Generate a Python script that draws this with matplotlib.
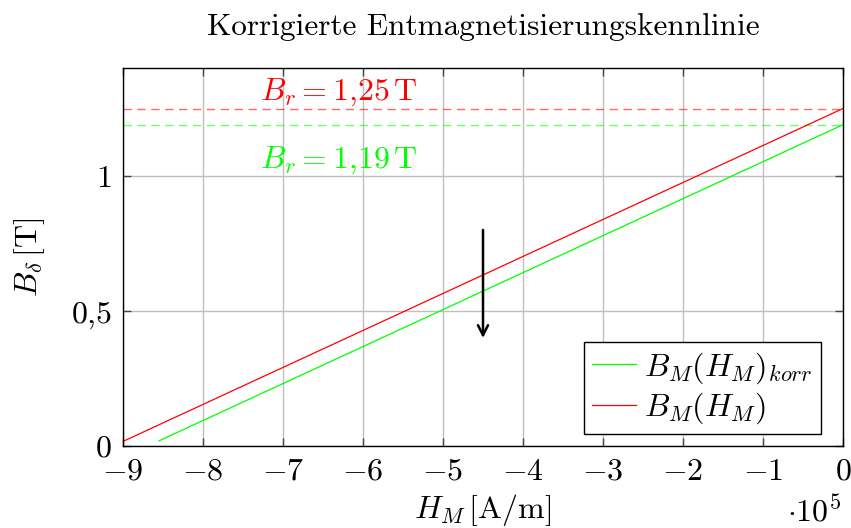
import numpy as np
import matplotlib
matplotlib.use("Agg")
import matplotlib.pyplot as plt

plt.rcParams["mathtext.fontset"] = "cm"
plt.rcParams["font.family"] = ["cmr10", "DejaVu Serif"]
plt.rcParams["axes.unicode_minus"] = False

# Field strength H_M in units of 1e5 A/m and flux density B_M in T
H_orig = [-9.0, 0.0]
B_orig = [0.017, 1.25]
H_korr = [-8.55, 0.0]
B_korr = [0.019, 1.19]

Br_orig = 1.25
Br_korr = 1.19

x_ticks = [-9, -8, -7, -6, -5, -4, -3, -2, -1, 0]
y_ticks = [0, 0.5, 1]
y_tick_labels = ["$0$", "$0{,}5$", "$1$"]

arrow_x = -4.5
arrow_from = 0.8
arrow_to = 0.4

red = "#ff0000"
green = "#00ff00"
FS = 23

W, H = 851, 528
fig = plt.figure(figsize=(W / 100, H / 100), dpi=100)
ax = fig.add_axes([123 / W, 1 - 446 / H, 720 / W, 378 / H])

ax.set_xlim(-9, 0)
ax.set_ylim(0, 1.4)

ax.grid(True, color="#bfbfbf", linewidth=1.0)
ax.set_axisbelow(True)

ax.axhline(Br_orig, color=red, linestyle=(0, (6, 4)), linewidth=1.0, alpha=0.6)
ax.axhline(Br_korr, color=green, linestyle=(0, (6, 4)), linewidth=1.0, alpha=0.6)

ax.plot(H_korr, B_korr, color=green, linewidth=0.9, label=r"$B_M(H_M)_{korr}$")
ax.plot(H_orig, B_orig, color=red, linewidth=0.9, label=r"$B_M(H_M)$")

ax.annotate("", xy=(arrow_x, arrow_to), xytext=(arrow_x, arrow_from),
            arrowprops=dict(arrowstyle="->", color="black", lw=1.8,
                            mutation_scale=18, shrinkA=0, shrinkB=0))

ax.text(-6.3, 1.31, r"$B_r = 1{,}25\,\mathrm{T}$", color=red, fontsize=FS,
        ha="center", va="center")
ax.text(-6.3, 1.06, r"$B_r = 1{,}19\,\mathrm{T}$", color=green, fontsize=FS,
        ha="center", va="center")

ax.set_xticks(x_ticks)
ax.set_xticklabels([f"${t}$" if t == 0 else f"$-{abs(t)}$" for t in x_ticks])
ax.set_yticks(y_ticks)
ax.set_yticklabels(y_tick_labels)
ax.tick_params(axis="both", direction="in", length=6, width=1.0, color="#444444",
               labelsize=FS, top=True, right=True)
ax.tick_params(axis="x", pad=9)
ax.tick_params(axis="y", pad=8)
for s in ax.spines.values():
    s.set_linewidth(1.0)
    s.set_color("black")

ax.set_xlabel(r"$H_M\,[\mathrm{A/m}]$", fontsize=FS, va="center")
ax.xaxis.set_label_coords(0.5, (446 - 510) / 378)
ax.set_ylabel(r"$B_\delta\,[\mathrm{T}]$", fontsize=FS, va="center")
ax.yaxis.set_label_coords((30 - 123) / 720, 0.5)

fig.text(483 / W, 1 - 27 / H, "Korrigierte Entmagnetisierungskennlinie",
         fontsize=22.5, ha="center", va="center")

fig.text(841 / W, 1 - 522 / H, r"$\cdot 10^5$", fontsize=FS, ha="right",
         va="baseline")

leg = ax.legend(loc="lower right", fontsize=FS, frameon=True, fancybox=False,
                edgecolor="black", framealpha=1.0, handlelength=1.4,
                borderpad=0.25, labelspacing=0.15, handletextpad=0.25,
                borderaxespad=0, bbox_to_anchor=((821 - 123) / 720, 12 / 378))
leg.get_frame().set_linewidth(1.0)

fig.savefig("out.png", dpi=100)
